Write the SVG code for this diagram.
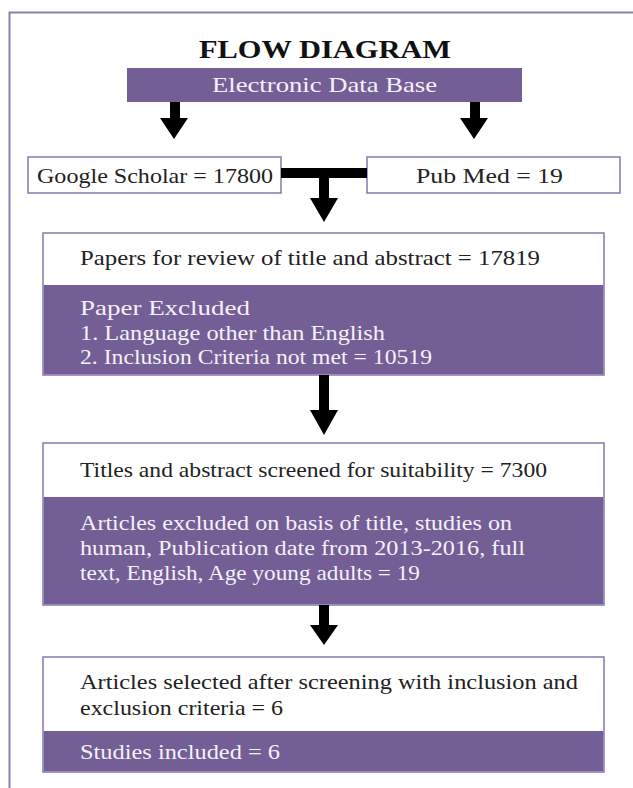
<svg xmlns="http://www.w3.org/2000/svg" width="633" height="788" viewBox="0 0 633 788">
<style>
.t{font-family:"Liberation Serif","DejaVu Serif",serif;font-size:21px;fill:#222}
.w{font-family:"Liberation Serif","DejaVu Serif",serif;font-size:21px;fill:#f4f1f8}
.box{fill:#fff;stroke:#8878b0;stroke-width:1.5}
.pur{fill:#735e96}
.arr{fill:#000}
</style>
<rect x="0" y="0" width="633" height="788" fill="#fff"/>
<path d="M9.5 788 V12.5 H633" fill="none" stroke="#8b7db5" stroke-width="2"/>
<text x="325" y="58" text-anchor="middle" font-family="Liberation Serif, serif" font-size="26" font-weight="bold" fill="#111" textLength="252" lengthAdjust="spacingAndGlyphs">FLOW DIAGRAM</text>
<g id="electronic">
<rect class="pur" x="127" y="68" width="395" height="34"/>
<text class="w" x="212" y="92" textLength="225" lengthAdjust="spacingAndGlyphs">Electronic Data Base</text>
</g>
<g id="google">
<rect class="box" x="28" y="157" width="253" height="36"/>
<text class="t" x="37" y="183" textLength="236" lengthAdjust="spacingAndGlyphs">Google Scholar = 17800</text>
</g>
<g id="pubmed">
<rect class="box" x="367" y="157" width="253" height="36"/>
<text class="t" x="416" y="183" textLength="147" lengthAdjust="spacingAndGlyphs">Pub Med = 19</text>
</g>
<g id="review">
<rect class="box" x="43" y="233" width="561" height="142"/>
<rect class="pur" x="43.75" y="285" width="559.5" height="89.25"/>
<text class="t" x="80" y="265" textLength="460" lengthAdjust="spacingAndGlyphs">Papers for review of title and abstract = 17819</text>
<text class="w" x="80" y="315" textLength="170" lengthAdjust="spacingAndGlyphs">Paper Excluded</text>
<text class="w" x="80" y="340" textLength="305" lengthAdjust="spacingAndGlyphs">1. Language other than English</text>
<text class="w" x="80" y="364" textLength="352" lengthAdjust="spacingAndGlyphs">2. Inclusion Criteria not met = 10519</text>
</g>
<g id="screened">
<rect class="box" x="43" y="443" width="561" height="162"/>
<rect class="pur" x="43.75" y="497" width="559.5" height="107.25"/>
<text class="t" x="80" y="477" textLength="467" lengthAdjust="spacingAndGlyphs">Titles and abstract screened for suitability = 7300</text>
<text class="w" x="80" y="530" textLength="432" lengthAdjust="spacingAndGlyphs">Articles excluded on basis of title, studies on</text>
<text class="w" x="80" y="555" textLength="445" lengthAdjust="spacingAndGlyphs">human, Publication date from 2013-2016, full</text>
<text class="w" x="80" y="580" textLength="340" lengthAdjust="spacingAndGlyphs">text, English, Age young adults = 19</text>
</g>
<g id="selected">
<rect class="box" x="43" y="657" width="561" height="115"/>
<rect class="pur" x="43.75" y="731" width="559.5" height="40.25"/>
<text class="t" x="80" y="689" textLength="498" lengthAdjust="spacingAndGlyphs">Articles selected after screening with inclusion and</text>
<text class="t" x="80" y="715" textLength="203" lengthAdjust="spacingAndGlyphs">exclusion criteria = 6</text>
<text class="w" x="80" y="759" textLength="200" lengthAdjust="spacingAndGlyphs">Studies included = 6</text>
</g>
<g id="connectors">
<polygon class="arr" points="170,102 180,102 180,118 188,118 174,139 160,118 170,118"/>
<polygon class="arr" points="470,102 480,102 480,118 488,118 474,139 460,118 470,118"/>
<polygon class="arr" points="281,168 367,168 367,178 329,178 329,198 338,198 324,222 310,198 319,198 319,178 281,178"/>
<polygon class="arr" points="319,375 329,375 329,410 338,410 324,435 310,410 319,410"/>
<polygon class="arr" points="319,605 329,605 329,625 338,625 324,645 310,625 319,625"/>
</g>
</svg>
